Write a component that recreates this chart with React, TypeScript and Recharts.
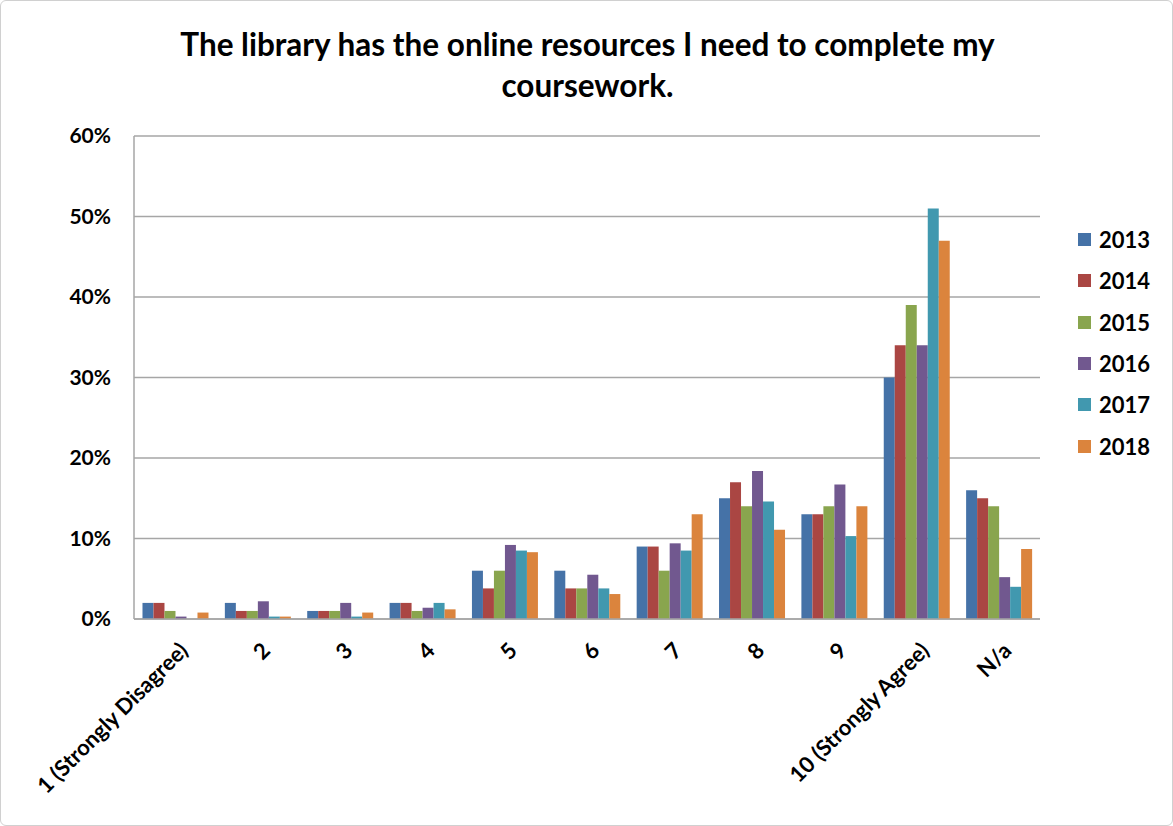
import React from "react";
import { BarChart, Bar, XAxis, YAxis, CartesianGrid } from "recharts";

const categories = ["1 (Strongly Disagree)", "2", "3", "4", "5", "6", "7", "8", "9", "10 (Strongly Agree)", "N/a"];
const years = ["2013", "2014", "2015", "2016", "2017", "2018"];
const v2013 = [2, 2, 1, 2, 6, 6, 9, 15, 13, 30, 16];
const v2014 = [2, 1, 1, 2, 3.8, 3.8, 9, 17, 13, 34, 15];
const v2015 = [1, 1, 1, 1, 6, 3.8, 6, 14, 14, 39, 14];
const v2016 = [0.3, 2.2, 2, 1.4, 9.2, 5.5, 9.4, 18.4, 16.7, 34, 5.2];
const v2017 = [0, 0.3, 0.3, 2, 8.5, 3.8, 8.5, 14.6, 10.3, 51, 4];
const v2018 = [0.8, 0.3, 0.8, 1.2, 8.3, 3.1, 13, 11.1, 14, 47, 8.7];
const colors = ["#4572A7", "#AA4643", "#89A54E", "#71588F", "#4198AF", "#DB843D"];
const yTicks = [0, 10, 20, 30, 40, 50, 60];

const seriesValues = [v2013, v2014, v2015, v2016, v2017, v2018];
const data = categories.map((c, i) => {
  const row: Record<string, string | number> = { name: c };
  years.forEach((y, k) => {
    row[y] = seriesValues[k][i];
  });
  return row;
});

const FONT = "Lato, 'Open Sans', sans-serif";

const XTick = (props: any) => {
  const { x, y, payload } = props;
  return (
    <g transform={`translate(${x + 8},${y + 19})`}>
      <text
        transform="rotate(-45)"
        textAnchor="end"
        dominantBaseline="central"
        fontFamily={FONT}
        fontWeight={700}
        fontSize={22}
        fill="#000"
      >
        {payload.value}
      </text>
    </g>
  );
};

export default function App() {
  return (
    <div
      style={{
        position: "absolute",
        left: 0,
        top: 0,
        width: 1173,
        height: 826,
        background: "#fff",
        boxSizing: "border-box",
        border: "1px solid #d0d0d0",
        borderRadius: 6,
        overflow: "hidden",
      }}
    >
      <div
        style={{
          position: "absolute",
          left: 0,
          top: 23,
          width: 1173,
          textAlign: "center",
          fontFamily: FONT,
          fontWeight: 700,
          fontSize: 31.5,
          lineHeight: "41px",
          color: "#000",
        }}
      >
        The library has the online resources I need to complete my
        <br />
        coursework.
      </div>
      <div style={{ position: "absolute", left: -1, top: -1 }}>
        <BarChart
          width={1173}
          height={826}
          data={data}
          margin={{ top: 136, right: 133, bottom: 7, left: 0 }}
          barCategoryGap="10.3%"
          barGap={0}
        >
          <CartesianGrid vertical={false} stroke="#a6a6a6" strokeWidth={1.5} />
          <XAxis
            dataKey="name"
            height={200}
            interval={0}
            tick={<XTick />}
            tickLine={false}
            axisLine={{ stroke: "#a6a6a6", strokeWidth: 1.5 }}
          />
          <YAxis
            width={134}
            domain={[0, 60]}
            ticks={yTicks}
            interval={0}
            tickFormatter={(v: number) => `${v}%`}
            tickLine={false}
            tickMargin={17}
            axisLine={{ stroke: "#a6a6a6", strokeWidth: 1.5 }}
            tick={{ fontFamily: FONT, fontWeight: 700, fontSize: 21, fill: "#000" }}
          />
          {years.map((y, i) => (
            <Bar key={y} dataKey={y} fill={colors[i]} isAnimationActive={false} />
          ))}
        </BarChart>
      </div>
      <div style={{ position: "absolute", left: 1077, top: 218, fontFamily: FONT }}>
        {years.map((y, i) => (
          <div key={y} style={{ display: "flex", alignItems: "center", height: 41.3 }}>
            <div style={{ width: 13, height: 13, background: colors[i], marginRight: 8 }} />
            <span style={{ fontSize: 22, fontWeight: 700, color: "#000" }}>{y}</span>
          </div>
        ))}
      </div>
    </div>
  );
}
